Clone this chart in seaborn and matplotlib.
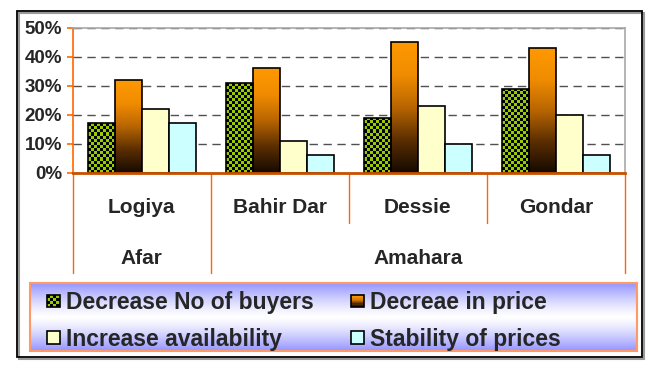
import numpy as np
import pandas as pd
import matplotlib
matplotlib.use("Agg")
import matplotlib.pyplot as plt
import seaborn as sns
from matplotlib.colors import ListedColormap, LinearSegmentedColormap
from matplotlib.patches import Rectangle, Patch
from matplotlib.legend_handler import HandlerBase
from matplotlib.lines import Line2D
from matplotlib.ticker import PercentFormatter, MultipleLocator

# ---- data -------------------------------------------------------------
cities = ["Logiya", "Bahir Dar", "Dessie", "Gondar"]
regions = ["Afar", "Amahara"]
region_span = {"Afar": (0, 0), "Amahara": (1, 3)}
causes = ["Decrease No of buyers", "Decreae in price",
          "Increase availability", "Stability of prices"]
decrease_buyers = [0.17, 0.31, 0.19, 0.29]
decrease_price = [0.32, 0.36, 0.45, 0.43]
increase_avail = [0.22, 0.11, 0.23, 0.20]
stable_prices = [0.17, 0.06, 0.10, 0.06]
series = [decrease_buyers, decrease_price, increase_avail, stable_prices]

GREEN = "#99CC00"
ORANGE_TOP = "#FF9900"
YELLOW = "#FFFFCC"
CYAN = "#CCFFFF"
AXIS_ORANGE = "#FF6600"

df = pd.DataFrame({
    "city": np.repeat([cities], len(causes), axis=0).ravel(),
    "cause": np.repeat(causes, len(cities)),
    "value": np.concatenate(series),
})

sns.set_style("white")
plt.rcParams["font.family"] = ["Liberation Sans", "DejaVu Sans"]
plt.rcParams["font.weight"] = "bold"

W, H, DPI = 650, 383, 100
fig = plt.figure(figsize=(W / DPI, H / DPI), dpi=DPI)

# outer frame with a soft shadow (outline only)
fig.patches.append(Rectangle((19 / W, 1 - 359 / H), 625 / W, 346 / H,
                             transform=fig.transFigure, fill=False,
                             edgecolor="#9a9a9a", lw=1.5, zorder=-1))
fig.patches.append(Rectangle((17 / W, 1 - 357 / H), 625 / W, 346 / H,
                             transform=fig.transFigure, fill=False,
                             edgecolor="black", lw=1.3, zorder=-0.5))

ax_l, ax_r, ax_t, ax_b = 72.7, 625.0, 27.7, 172.7
ax = fig.add_axes([ax_l / W, 1 - ax_b / H, (ax_r - ax_l) / W, (ax_b - ax_t) / H])
ax.set_facecolor("white")

sns.barplot(data=df, x="city", y="value", hue="cause", order=cities,
            hue_order=causes, palette=[GREEN, ORANGE_TOP, YELLOW, CYAN],
            saturation=1, width=0.78, edgecolor="black", linewidth=1.2,
            legend=False, ax=ax)

ax.set_xlabel("")
ax.set_ylabel("")
ax.set_xticks([])

# pixel scale of the axes, used for the fill textures
px_x = (ax_r - ax_l) / (len(cities))   # pixels per category
px_y = (ax_b - ax_t) / 0.5             # pixels per unit value

checker_cmap = ListedColormap([GREEN, "black"])
price_cmap = LinearSegmentedColormap.from_list(
    "price", ["#140900", "#5a2e00", "#b86500", "#f08c00", ORANGE_TOP])

cell = 3.0
for bar in ax.containers[0]:
    x0, w, h = bar.get_x(), bar.get_width(), bar.get_height()
    nx = max(1, int(round(w * px_x / cell)))
    ny = max(1, int(round(h * px_y / cell)))
    pattern = np.add.outer(np.arange(ny), np.arange(nx)) % 2
    im = ax.imshow(pattern, cmap=checker_cmap, extent=[x0, x0 + w, 0, h],
                   origin="lower", aspect="auto", interpolation="nearest",
                   zorder=bar.get_zorder() - 0.05)
    im.set_clip_path(bar)
    bar.set_facecolor("none")

for bar in ax.containers[1]:
    x0, w, h = bar.get_x(), bar.get_width(), bar.get_height()
    grad = np.linspace(0, 1, 256).reshape(-1, 1)
    im = ax.imshow(grad, cmap=price_cmap, extent=[x0, x0 + w, 0, h],
                   origin="lower", aspect="auto", interpolation="bilinear",
                   zorder=bar.get_zorder() - 0.05)
    im.set_clip_path(bar)
    bar.set_facecolor("none")

ax.set_xlim(-0.5, len(cities) - 0.5)
ax.set_ylim(0, 0.5)
ax.yaxis.set_major_locator(MultipleLocator(0.1))
ax.yaxis.set_major_formatter(PercentFormatter(1.0, decimals=0))

ax.set_axisbelow(True)
ax.yaxis.grid(True, color="#505050", lw=1.0, linestyle=(0, (6, 4)))
ax.xaxis.grid(False)

for side in ("top", "right"):
    ax.spines[side].set_color("#a8a8a8")
    ax.spines[side].set_linewidth(1.2)
ax.spines["left"].set_color(AXIS_ORANGE)
ax.spines["left"].set_linewidth(1.2)
ax.spines["bottom"].set_color("#c85000")
ax.spines["bottom"].set_linewidth(2.0)

ax.tick_params(axis="y", direction="out", length=4.5, width=1.2,
               color=AXIS_ORANGE, pad=3, labelsize=13.5, left=True)
for lab in ax.get_yticklabels():
    lab.set_fontweight("bold")

# category axis: city labels, region labels and separators
xt = ax.get_xaxis_transform()
ax_h = ax_b - ax_t
for i, c in enumerate(cities):
    ax.text(i, -(208 - ax_b) / ax_h, c, transform=xt, ha="center",
            va="center", fontsize=15, fontweight="bold", clip_on=False)
for r in regions:
    a, b = region_span[r]
    ax.text((a + b) / 2, -(258 - ax_b) / ax_h, r, transform=xt, ha="center",
            va="center", fontsize=15, fontweight="bold", clip_on=False)

region_edges = {-0.5, 0.5, len(cities) - 0.5}
for k in range(len(cities) + 1):
    xpos = k - 0.5
    low = 273 if xpos in region_edges else 223
    ax.add_line(Line2D([xpos, xpos], [0, -(low - ax_b) / ax_h], transform=xt,
                       color=AXIS_ORANGE, lw=1.0, clip_on=False))

# ---- legend -----------------------------------------------------------
class SwatchHandler(HandlerBase):
    def __init__(self, kind, color=None):
        super().__init__()
        self.kind = kind
        self.color = color

    def create_artists(self, legend, orig_handle, xdescent, ydescent,
                       width, height, fontsize, trans):
        s = min(width, height)
        x0 = -xdescent + (width - s) / 2
        y0 = -ydescent + (height - s) / 2
        arts = []
        if self.kind == "checker":
            n = 4
            c = s / n
            for i in range(n):
                for j in range(n):
                    arts.append(Rectangle((x0 + i * c, y0 + j * c), c, c,
                                          facecolor="black" if (i + j) % 2 else GREEN,
                                          lw=0, transform=trans))
        elif self.kind == "gradient":
            n = 10
            c = s / n
            for j in range(n):
                arts.append(Rectangle((x0, y0 + j * c), s, c * 1.02,
                                      facecolor=price_cmap(j / (n - 1)),
                                      lw=0, transform=trans))
        else:
            arts.append(Rectangle((x0, y0), s, s, facecolor=self.color,
                                  lw=0, transform=trans))
        arts.append(Rectangle((x0, y0), s, s, fill=False, edgecolor="black",
                              lw=1.2, transform=trans))
        return arts

handles = [Patch(label=c) for c in causes]
hmap = {
    handles[0]: SwatchHandler("checker"),
    handles[1]: SwatchHandler("gradient"),
    handles[2]: SwatchHandler("plain", YELLOW),
    handles[3]: SwatchHandler("plain", CYAN),
}

lg_l, lg_r, lg_t, lg_b = 30, 637, 283, 351
lax = fig.add_axes([lg_l / W, 1 - lg_b / H, (lg_r - lg_l) / W, (lg_b - lg_t) / H])
t = np.abs(np.linspace(-1, 1, 200))
wgt = t ** 1.3
lav = np.array([0.58, 0.58, 1.0])
bg = (1 - wgt)[:, None] * np.ones(3) + wgt[:, None] * lav
lax.imshow(bg[:, None, :], extent=[0, 1, 0, 1], aspect="auto",
           interpolation="bilinear")
lax.set_xlim(0, 1)
lax.set_ylim(0, 1)
lax.set_xticks([])
lax.set_yticks([])
for sp in lax.spines.values():
    sp.set_color("#FF9966")
    sp.set_linewidth(1.5)

lw_px = lg_r - lg_l
lh_px = lg_b - lg_t
common = dict(frameon=False, handlelength=0.55, handleheight=0.55,
              handletextpad=0.3, labelspacing=0.6, borderpad=0,
              borderaxespad=0, loc="upper left",
              prop={"size": 16.5, "weight": "bold"})
leg1 = lax.legend([handles[0], handles[2]], [causes[0], causes[2]],
                  handler_map=hmap,
                  bbox_to_anchor=((47 - lg_l) / lw_px, 1 - 8 / lh_px),
                  **common)
lax.add_artist(leg1)
lax.legend([handles[1], handles[3]], [causes[1], causes[3]],
           handler_map=hmap,
           bbox_to_anchor=((351 - lg_l) / lw_px, 1 - 8 / lh_px),
           **common)

fig.savefig("out.png", dpi=DPI)
